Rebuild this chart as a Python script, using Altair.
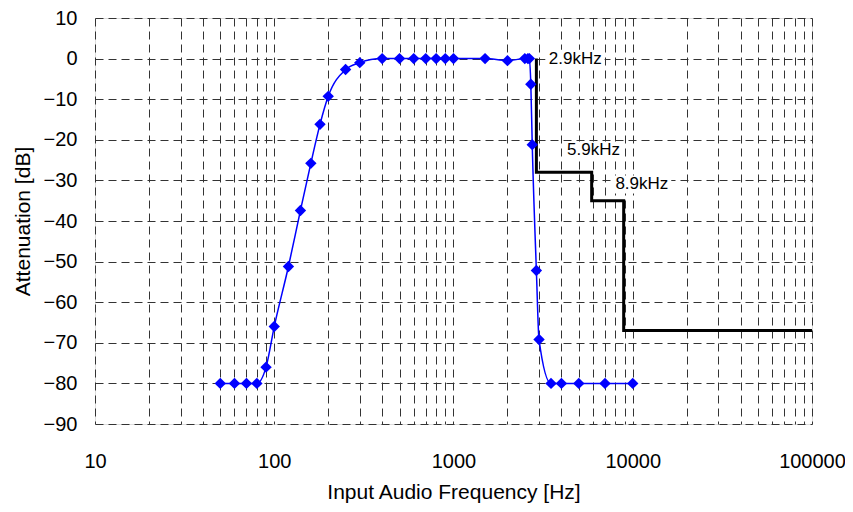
import altair as alt
import pandas as pd

# measured response (blue)
freq_hz = [50, 60, 70, 80, 90, 100, 120, 140, 160, 180, 200, 250, 300, 400, 500, 600, 700,
           800, 900, 1000, 1500, 2000, 2500, 2600, 2650, 2700, 2750, 2900, 3000, 3500, 4000,
           5000, 7000, 10000]
atten_db = [-80, -80, -80, -80, -76, -66, -51.2, -37.4, -25.8, -16.2, -9.3, -2.7, -1.0, 0, 0, 0, 0,
            0, 0, 0, 0, -0.5, 0, 0, 0, -6.3, -21.2, -52.2, -69.2, -80, -80,
            -80, -80, -80]

# specification mask (black step)
mask_freq = [2900, 2900, 5900, 5900, 8900, 8900, 100000]
mask_db = [0, -28, -28, -35, -35, -67, -67]

# annotations
label_text = ["2.9kHz", "5.9kHz", "8.9kHz"]
label_freq = [3400, 4300, 8000]
label_db = [0, -22.6, -31]

x_ticks = [m * 10 ** k for k in range(1, 5) for m in range(1, 10)] + [100000]
y_ticks = list(range(-90, 11, 10))

resp = pd.DataFrame({"f": freq_hz, "db": atten_db})
mask = pd.DataFrame({"f": mask_freq, "db": mask_db, "i": list(range(len(mask_freq)))})
labels = pd.DataFrame({"f": label_freq, "db": label_db, "t": label_text})
labels["f0"] = labels["f"] * 0.96
labels["f1"] = labels["f"] * 2.05
labels["d0"] = labels["db"] - 2.2
labels["d1"] = labels["db"] + 2.2

FONT = "Liberation Sans"

xscale = alt.Scale(type="log", domain=[10, 100000], nice=False)
yscale = alt.Scale(domain=[-90, 10], nice=False)

xaxis = alt.Axis(
    title="Input Audio Frequency [Hz]",
    values=x_ticks,
    labelExpr="indexof([10,100,1000,10000,100000], datum.value) >= 0 ? format(datum.value, 'd') : ''",
    grid=True, gridDash=[8, 5], gridColor="#333333", gridWidth=1,
    ticks=False, tickSize=0, domain=False,
    labelPadding=27, labelFontSize=20, labelFont=FONT, labelColor="black",
    titleFontSize=21, titleFont=FONT, titleFontWeight="normal", titleColor="black",
    titlePadding=10, labelOverlap=False, labelFlush=False,
)
yaxis = alt.Axis(
    title="Attenuation [dB]",
    values=y_ticks,
    grid=True, gridDash=[8, 5], gridColor="#333333", gridWidth=1,
    ticks=False, tickSize=0, domain=False,
    labelPadding=18, labelFontSize=20, labelFont=FONT, labelColor="black",
    titleFontSize=21, titleFont=FONT, titleFontWeight="normal", titleColor="black",
    titlePadding=10, labelOverlap=False, labelFlush=False,
)

bg = alt.Chart(labels).mark_rect(color="white", opacity=1).encode(
    x=alt.X("f0:Q", scale=xscale, axis=xaxis), x2="f1:Q",
    y=alt.Y("d0:Q", scale=yscale, axis=yaxis), y2="d1:Q",
)
line = alt.Chart(resp).mark_line(color="#0000FF", strokeWidth=1.5, interpolate="monotone").encode(
    x=alt.X("f:Q", scale=xscale), y=alt.Y("db:Q", scale=yscale)
)
pts = alt.Chart(resp).mark_point(shape="diamond", filled=True, color="#0000FF", size=130, opacity=1).encode(
    x=alt.X("f:Q", scale=xscale), y=alt.Y("db:Q", scale=yscale)
)
step = alt.Chart(mask).mark_line(color="black", strokeWidth=3).encode(
    x=alt.X("f:Q", scale=xscale), y=alt.Y("db:Q", scale=yscale), order="i:Q"
)
txt = alt.Chart(labels).mark_text(align="left", baseline="middle", fontSize=17, font=FONT, color="black").encode(
    x=alt.X("f:Q", scale=xscale), y=alt.Y("db:Q", scale=yscale), text="t:N"
)

chart = alt.layer(bg, line, step, pts, txt).properties(
    width=717, height=406,
    autosize=alt.AutoSizeParams(type="none"),
    padding={"left": 87, "top": 10, "right": 33, "bottom": 80},
).configure_view(stroke="black", strokeWidth=2).configure(background="white")

chart.save("out.html", embed_options={"renderer": "svg", "actions": False})
